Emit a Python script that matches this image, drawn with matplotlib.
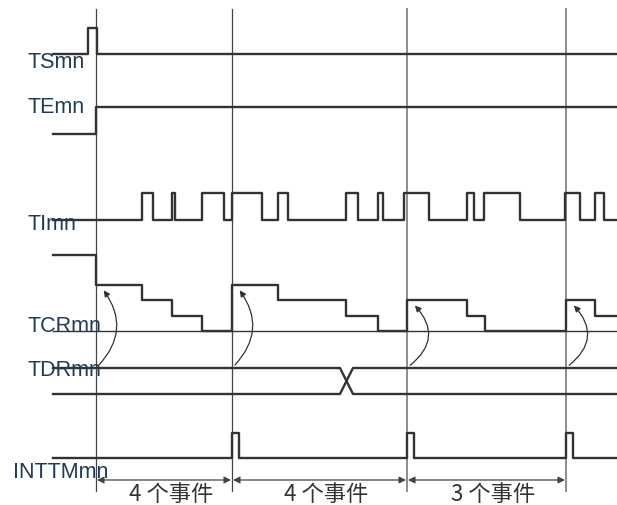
import matplotlib.pyplot as plt
from matplotlib.patches import FancyArrowPatch

# signal names
names = ['TSmn', 'TEmn', 'TImn', 'TCRmn', 'TDRmn', 'INTTMmn']

# time axis (edge times)
t_start = 53
t_end = 616
ts_pulse = [88, 97]
te_rise = 96
ti_toggles = [142, 153, 172, 175, 202, 224, 232, 262, 278, 288, 346, 358,
              378, 383, 404, 429, 467, 474, 484, 520, 565, 580, 595, 604]
tcr_times = [53, 96, 142, 172, 202, 232, 278, 346, 378, 407, 467, 485, 566, 595]
tcr_counts = [5, 3, 2, 1, 0, 3, 2, 1, 0, 2, 1, 0, 2, 1]
tdr_change = [340, 353]
reload_times = [96, 232, 407, 566]
int_width = 6.5
event_counts = [4, 4, 3]

# layout (lane baselines / amplitudes)
lane = {'TSmn': (55, 26), 'TEmn': (135, 27), 'TImn': (221, 27),
        'TCRmn': (332, 15.3), 'TDRmn': (369, 395), 'INTTMmn': (459, 25)}
label_y = {'TSmn': 62, 'TEmn': 107, 'TImn': 225, 'TCRmn': 326,
           'TDRmn': 371, 'INTTMmn': 473}
label_x = {'INTTMmn': 13}

sig_col = '#333333'
sig_lw = 1.7
txt_col = '#1f3b57'


def lvl(name, v):
    base, amp = lane[name]
    return base - v * amp


fig = plt.figure(figsize=(6.17, 5.06), dpi=100)
ax = fig.add_axes([0, 0, 1, 1])
ax.set_xlim(0, 617)
ax.set_ylim(506, 0)
ax.axis('off')

# vertical reference lines
for i, t in enumerate(reload_times):
    if i < 2:
        ax.plot([t, t], [10, 492], color='#444444', lw=0.9, zorder=1)
    else:
        ax.plot([t, t], [10, 492], color='#8c8c8c', lw=1.4, zorder=1)

# TSmn
x = [t_start, ts_pulse[0], ts_pulse[1], t_end]
y = [0, 1, 0, 0]
ax.step(x, [lvl('TSmn', v) for v in y], where='post', color=sig_col, lw=sig_lw)

# TEmn
x = [t_start, te_rise, t_end]
y = [0, 1, 1]
ax.step(x, [lvl('TEmn', v) for v in y], where='post', color=sig_col, lw=sig_lw)

# TImn
x = [t_start] + ti_toggles + [t_end]
y = [0] + [(i + 1) % 2 for i in range(len(ti_toggles))]
y = y + [y[-1]]
ax.step(x, [lvl('TImn', v) for v in y], where='post', color=sig_col, lw=sig_lw)

# TCRmn
ax.plot([t_start, t_end], [lvl('TCRmn', 0)] * 2, color=sig_col, lw=1.0)
x = tcr_times + [t_end]
y = tcr_counts + [tcr_counts[-1]]
ax.step(x, [lvl('TCRmn', v) for v in y], where='post', color=sig_col, lw=sig_lw)

# TDRmn bus with value change
hi, lo = lane['TDRmn']
ax.plot([t_start, tdr_change[0], tdr_change[1], t_end], [hi, hi, lo, lo],
        color=sig_col, lw=sig_lw)
ax.plot([t_start, tdr_change[0], tdr_change[1], t_end], [lo, lo, hi, hi],
        color=sig_col, lw=sig_lw)

# INTTMmn
x = [t_start]
y = [0]
for t in reload_times[1:]:
    x += [t, t + int_width]
    y += [1, 0]
x.append(t_end)
y.append(0)
ax.step(x, [lvl('INTTMmn', v) for v in y], where='post', color=sig_col, lw=sig_lw)

# reload arrows TDR -> TCR
for i, t in enumerate(reload_times):
    top = lvl('TCRmn', tcr_counts[tcr_times.index(t)])
    rad = 0.43 if i < 2 else 0.56
    arr = FancyArrowPatch((t + 1, hi - 1), (t + 6, top + 3),
                          connectionstyle='arc3,rad=%.2f' % rad,
                          arrowstyle='-|>', mutation_scale=9, lw=0.9,
                          color='#333333', zorder=3)
    ax.add_patch(arr)

# event count dimension arrows
for a, b, n in zip(reload_times[:-1], reload_times[1:], event_counts):
    ax.annotate('', xy=(b - 1, 481), xytext=(a + 1, 481),
                arrowprops=dict(arrowstyle='<|-|>', color='#444444', lw=0.9,
                                mutation_scale=10, shrinkA=0, shrinkB=0))
    ax.text((a + b) / 2 + 7, 495, '%d 个事件' % n, ha='center', va='center',
            fontsize=16, color='#333333',
            family=['Noto Sans CJK SC', 'DejaVu Sans'])

# signal labels
for nm in names:
    ax.text(label_x.get(nm, 28), label_y[nm], nm, ha='left', va='center',
            fontsize=15.5, color=txt_col, family='Liberation Sans', zorder=5)

fig.savefig('out.png', dpi=100)
